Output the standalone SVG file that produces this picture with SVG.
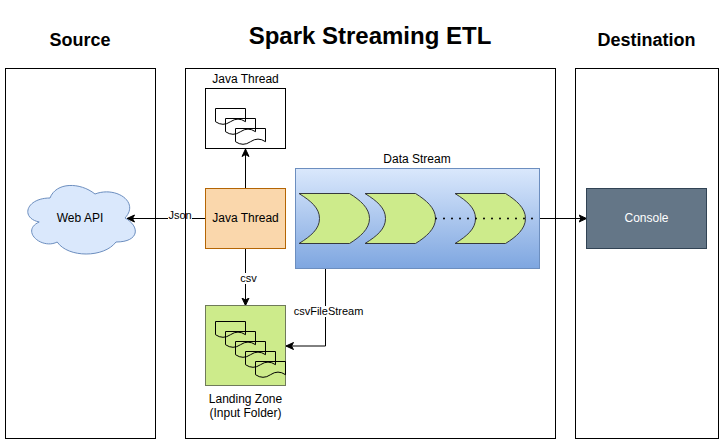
<svg xmlns="http://www.w3.org/2000/svg" width="725" height="445" viewBox="0 0 725 445">
<style>
text{font-family:"Liberation Sans",Arial,sans-serif;text-anchor:middle;fill:#000;font-size:12px}
.title{font-weight:bold;font-size:18px}
.small{font-size:11px}
.panel{fill:none;stroke:#000;stroke-width:1}
.chev{fill:#cdeb8b;stroke:#36393d;stroke-width:1}
.doc{fill:none;stroke:#000;stroke-width:1}
.line{fill:none;stroke:#000;stroke-width:1}
.arrow{marker-end:url(#head)}
.lbl{fill:#fff}
</style>
<defs>
<linearGradient id="ds" x1="0" y1="0" x2="0" y2="1"><stop offset="0" stop-color="#dae8fc"/><stop offset="1" stop-color="#7ea6e0"/></linearGradient>
<marker id="head" markerUnits="userSpaceOnUse" markerWidth="9" markerHeight="9" refX="8" refY="4.5" orient="auto"><path d="M8,4.5 L0.5,1 L2.5,4.5 L0.5,8 Z" fill="#000" stroke="#000" stroke-width="1"/></marker>
<path id="d" d="M0,0 H30 V13.2 Q22.5,8 15,13.2 T0,13.2 Z" class="doc"/>
<path id="chevron" d="M0,0 H50.5 C61,6.5 70.5,14.5 70.5,25 C70.5,35.5 61,43.5 50.5,50 H0 C12,42.5 20.5,35.5 20.5,25 C20.5,14.5 12,7.5 0,0 Z" class="chev"/>
</defs>
<g id="title-source"><text class="title" x="80" y="46">Source</text></g>
<g id="title-main"><text class="title" x="370" y="43.500" style="font-size:24px">Spark Streaming ETL</text></g>
<g id="title-destination"><text class="title" x="646.500" y="46">Destination</text></g>
<g id="connectors">
<path class="line arrow" d="M245.500,188.500 V149"/>
<path class="line arrow" d="M205.500,218.500 H127"/>
<path class="line arrow" d="M245.500,248.500 V305.500"/>
<path class="line arrow" d="M325.500,268.500 V346 H286"/>
<path class="line arrow" d="M539.500,218.500 H586.500"/>
</g>
<g id="label-backgrounds">
<rect class="lbl" x="168" y="210" width="24" height="11"/>
<rect class="lbl" x="240" y="273" width="17" height="11"/>
<rect class="lbl" x="294" y="306" width="70" height="11"/>
</g>
<g id="panel-source"><rect class="panel" x="5.500" y="68.500" width="150" height="370"/></g>
<g id="panel-etl"><rect class="panel" x="185.500" y="68.500" width="370" height="370"/></g>
<g id="panel-destination"><rect class="panel" x="575.500" y="68.500" width="143" height="370"/></g>
<g id="web-api">
<path d="M50,198 C26,198 20,218 39.200,222 C20,230.800 41.600,250 57.200,242 C68,258 104,258 116,242 C140,242 140,226 125,218 C140,202 116,186 95,194 C80,182 56,182 50,198 Z" fill="#dae8fc" stroke="#6c8ebf" transform="translate(0,0)"/>
<text x="80" y="222">Web API</text>
</g>
<g id="java-thread-top">
<rect x="205.500" y="88.500" width="80" height="60" fill="#fff" stroke="#000"/>
<use href="#d" x="215.500" y="108.500"/><use href="#d" x="225.500" y="118.500"/><use href="#d" x="235.500" y="128.500"/>
<text x="245.500" y="83">Java Thread</text>
</g>
<g id="java-thread">
<rect x="205.500" y="188.500" width="80" height="60" fill="#fad7ac" stroke="#b46504"/>
<text x="245.500" y="222">Java Thread</text>
</g>
<g id="landing-zone">
<rect x="205.500" y="305.500" width="80" height="80" fill="#cdeb8b" stroke="#6f7a5a"/>
<use href="#d" x="215.500" y="321.500"/><use href="#d" x="225.500" y="331.500"/><use href="#d" x="235.500" y="341.500"/><use href="#d" x="245.500" y="351.500"/><use href="#d" x="255.500" y="361.500"/>
<text x="245.500" y="403">Landing Zone</text>
<text x="245.500" y="417">(Input Folder)</text>
</g>
<g id="data-stream">
<rect x="295.500" y="168.500" width="244" height="100" fill="url(#ds)" stroke="#6c8ebf"/>
<use href="#chevron" x="299" y="193.500"/><use href="#chevron" x="365" y="193.500"/><use href="#chevron" x="455" y="193.500"/>
<path d="M436,218.500 H536" fill="none" stroke="#000" stroke-width="2" stroke-linecap="round" stroke-dasharray="0 8"/>
<text x="417" y="163">Data Stream</text>
</g>
<g id="console">
<rect x="586.500" y="188.500" width="120" height="60" fill="#647687" stroke="#314354"/>
<text x="646.500" y="222" style="fill:#fff">Console</text>
</g>
<g id="labels">
<text class="small" x="180" y="219">Json</text>
<text class="small" x="248.500" y="282">csv</text>
<text class="small" x="328.500" y="315">csvFileStream</text>
</g>
</svg>
